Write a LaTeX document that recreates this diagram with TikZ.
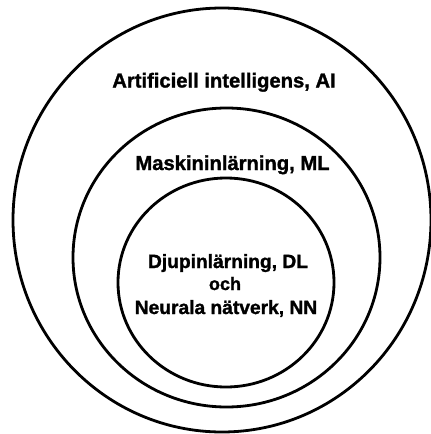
\documentclass[tikz,border=0pt]{standalone}
\usepackage{fontspec}
\setmainfont{Liberation Sans}
\newfontfamily\heavyfont{Liberation Sans Bold}[FakeBold=1.4]
\tikzset{
  ring/.style={draw=black, line width=2.8pt},
  lbl/.style={font=\heavyfont\fontsize{20.2}{22}\selectfont, anchor=base, inner sep=0pt},
  lblin/.style={font=\heavyfont\fontsize{19.2}{22}\selectfont, anchor=base, inner sep=0pt},
  lblsmall/.style={font=\heavyfont\fontsize{18}{20}\selectfont, anchor=base, inner sep=0pt}
}
\begin{document}
\begin{tikzpicture}[x=1pt,y=-1pt]
  \useasboundingbox[fill=white] (0,0) rectangle (431,434);
  \draw[ring] (222,220) ellipse [x radius=209, y radius=212];
  \draw[ring] (226.5,257.5) ellipse [x radius=153.5, y radius=149.5];
  \draw[ring] (226,282.5) ellipse [x radius=108, y radius=104.5];
  \node[lbl] (ai) at (224,87.5) {Artificiell intelligens, AI};
  \node[lbl] (ml) at (232.5,170) {Maskininlärning, ML};
  \node[lblin] (dl) at (228,268) {Djupinlärning, DL};
  \node[lblsmall] (och) at (225,290) {och};
  \node[lblin] (nn) at (226,314) {Neurala nätverk, NN};
\end{tikzpicture}
\end{document}
